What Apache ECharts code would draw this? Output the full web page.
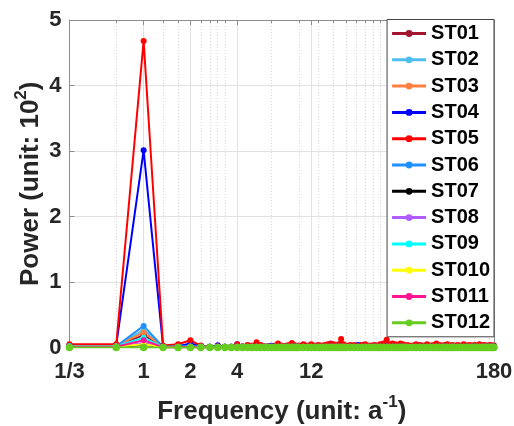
<!DOCTYPE html>
<html>
<head>
<meta charset="utf-8">
<title>Power spectrum</title>
<script src="https://cdn.jsdelivr.net/npm/echarts@6/dist/echarts.min.js"></script>
<style>
html, body { margin: 0; padding: 0; background: #fff; }
#chart { width: 514px; height: 426px; }
</style>
</head>
<body>
<div id="chart"></div>
<script>
// harmonic number k of each point, frequency = k / 3 (unit: a^-1)
var harmonic = [
    1, 2, 3, 4, 5, 6, 7, 8, 9, 10, 11, 12, 13, 14, 15, 16, 17, 18, 19, 20, 21, 22, 23, 24, 25, 26, 27, 28, 29, 30,
    32, 34, 36, 38, 40, 42, 44, 46, 48, 50, 52, 54, 56, 58, 60,
    64, 68, 72, 76, 80, 84, 88, 92, 96, 100,
    105, 110, 115, 120, 125, 130, 135, 140, 145, 150,
    160, 170, 180, 190, 200, 210, 220, 230, 240, 250, 260, 270, 280, 290, 300,
    315, 330, 345, 360, 375, 390, 405, 420, 435, 450, 465, 480, 495, 510, 525, 540
];

var xTickValues = [1 / 3, 1, 2, 4, 12, 180];
var xTickLabels = ['1/3', '1', '2', '4', '12', '180'];
// minor grid of the log axis
var xMinorValues = [2 / 3, 1, 4 / 3, 5 / 3, 2, 7 / 3, 8 / 3, 3, 10 / 3,
    20 / 3, 10, 40 / 3, 50 / 3, 20, 70 / 3, 80 / 3, 30, 100 / 3,
    200 / 3, 100, 400 / 3, 500 / 3];

var stationNames = ['ST01', 'ST02', 'ST03', 'ST04', 'ST05', 'ST06', 'ST07', 'ST08', 'ST09', 'ST010', 'ST011', 'ST012'];
var stationColors = ['#A2142F', '#4DBEEE', '#FF7F3F', '#0000FF', '#FF0000', '#1E90FF', '#000000', '#B05CFF', '#00FFFF', '#FFFF00', '#FF1493', '#66CC1F'];

// power (unit: 10^2)
var ST01 = [
    0.02, 0.02, 0.19, 0.01, 0.01, 0.01, 0.01, 0.01, 0.01, 0.01, 0.01, 0.01, 0.01, 0.01, 0.01, 0.01, 0.01, 0.01, 0.01, 0.01, 0.01, 0.01, 0.01, 0.01, 0.01, 0.01, 0.01, 0.01, 0.01, 0.01,
    0.01, 0.01, 0.01, 0.01, 0.01, 0.01, 0.01, 0.01, 0.01, 0.01, 0.01, 0.01, 0.01, 0.01, 0.01,
    0.01, 0.01, 0.01, 0.01, 0.01, 0.01, 0.01, 0.01, 0.01, 0.01,
    0.01, 0.01, 0.01, 0.01, 0.01, 0.01, 0.01, 0.01, 0.01, 0.01,
    0.01, 0.01, 0.01, 0.01, 0.01, 0.01, 0.01, 0.01, 0.01, 0.01, 0.01, 0.01, 0.01, 0.01, 0.01,
    0.01, 0.01, 0.01, 0.01, 0.01, 0.01, 0.01, 0.01, 0.01, 0.01, 0.01, 0.01, 0.01, 0.01, 0.01, 0.01
];
var ST02 = [
    0.02, 0.02, 0.27, 0.01, 0.01, 0.02, 0.01, 0.01, 0.01, 0.01, 0.01, 0.01, 0.01, 0.01, 0.01, 0.01, 0.01, 0.01, 0.01, 0.01, 0.01, 0.01, 0.01, 0.01, 0.01, 0.01, 0.01, 0.01, 0.01, 0.01,
    0.01, 0.01, 0.01, 0.01, 0.01, 0.01, 0.01, 0.01, 0.01, 0.01, 0.01, 0.01, 0.01, 0.01, 0.01,
    0.01, 0.01, 0.01, 0.01, 0.01, 0.01, 0.01, 0.01, 0.01, 0.01,
    0.01, 0.01, 0.01, 0.01, 0.01, 0.01, 0.01, 0.01, 0.01, 0.01,
    0.01, 0.01, 0.01, 0.01, 0.01, 0.01, 0.01, 0.01, 0.01, 0.01, 0.01, 0.01, 0.01, 0.01, 0.01,
    0.01, 0.01, 0.01, 0.01, 0.01, 0.01, 0.01, 0.01, 0.01, 0.01, 0.01, 0.01, 0.01, 0.01, 0.01, 0.01
];
var ST03 = [
    0.02, 0.02, 0.23, 0.01, 0.01, 0.01, 0.01, 0.01, 0.01, 0.01, 0.01, 0.01, 0.01, 0.01, 0.01, 0.01, 0.01, 0.01, 0.01, 0.01, 0.01, 0.01, 0.01, 0.01, 0.01, 0.01, 0.01, 0.01, 0.01, 0.01,
    0.01, 0.01, 0.01, 0.01, 0.01, 0.01, 0.01, 0.01, 0.01, 0.01, 0.01, 0.01, 0.01, 0.01, 0.01,
    0.01, 0.01, 0.01, 0.01, 0.01, 0.01, 0.01, 0.01, 0.01, 0.01,
    0.01, 0.01, 0.01, 0.01, 0.01, 0.01, 0.01, 0.01, 0.01, 0.01,
    0.01, 0.01, 0.01, 0.01, 0.01, 0.01, 0.01, 0.01, 0.01, 0.01, 0.01, 0.01, 0.01, 0.01, 0.01,
    0.01, 0.01, 0.01, 0.01, 0.01, 0.01, 0.01, 0.01, 0.01, 0.01, 0.01, 0.01, 0.01, 0.01, 0.01, 0.01
];
var ST04 = [
    0.04, 0.04, 3.01, 0.02, 0.02, 0.06, 0.02, 0.01, 0.035, 0.01, 0.01, 0.05, 0.01, 0.02, 0.02, 0.03, 0.02, 0.01, 0.02, 0.025, 0.02, 0.03, 0.01, 0.02, 0.02, 0.02, 0.03, 0.02, 0.02, 0.02,
    0.02, 0.02, 0.03, 0.02, 0.02, 0.02, 0.02, 0.03, 0.02, 0.02, 0.02, 0.02, 0.03, 0.02, 0.02,
    0.02, 0.02, 0.04, 0.04, 0.03, 0.02, 0.02, 0.02, 0.02, 0.03,
    0.02, 0.03, 0.02, 0.02, 0.02, 0.02, 0.02, 0.02, 0.02, 0.02,
    0.02, 0.02, 0.03, 0.02, 0.02, 0.02, 0.02, 0.03, 0.02, 0.02, 0.02, 0.02, 0.02, 0.02, 0.02,
    0.02, 0.02, 0.02, 0.02, 0.02, 0.02, 0.02, 0.02, 0.02, 0.02, 0.02, 0.02, 0.02, 0.02, 0.02, 0.02
];
var ST05 = [
    0.05, 0.05, 4.68, 0.03, 0.05, 0.11, 0.03, 0.01, 0.02, 0.01, 0.01, 0.05, 0.02, 0.04, 0.03, 0.08, 0.04, 0.02, 0.02, 0.01, 0.03, 0.06, 0.03, 0.02, 0.03, 0.04, 0.07, 0.04, 0.02, 0.03,
    0.05, 0.03, 0.05, 0.03, 0.04, 0.03, 0.04, 0.05, 0.06, 0.05, 0.03, 0.05, 0.13, 0.05, 0.03,
    0.04, 0.04, 0.02, 0.04, 0.05, 0.03, 0.03, 0.04, 0.03, 0.05,
    0.06, 0.12, 0.05, 0.06, 0.05, 0.04, 0.06, 0.05, 0.03, 0.04,
    0.03, 0.05, 0.04, 0.03, 0.05, 0.03, 0.04, 0.06, 0.04, 0.03, 0.04, 0.05, 0.03, 0.04, 0.03,
    0.04, 0.03, 0.05, 0.03, 0.04, 0.03, 0.04, 0.03, 0.05, 0.03, 0.04, 0.03, 0.03, 0.04, 0.03, 0.03
];
var ST06 = [
    0.02, 0.02, 0.33, 0.01, 0.01, 0.02, 0.01, 0.01, 0.01, 0.01, 0.01, 0.01, 0.01, 0.01, 0.01, 0.01, 0.01, 0.01, 0.01, 0.01, 0.01, 0.01, 0.01, 0.01, 0.01, 0.01, 0.01, 0.01, 0.01, 0.01,
    0.01, 0.01, 0.01, 0.01, 0.01, 0.01, 0.01, 0.01, 0.01, 0.01, 0.01, 0.01, 0.01, 0.01, 0.01,
    0.01, 0.01, 0.01, 0.01, 0.01, 0.01, 0.01, 0.01, 0.01, 0.01,
    0.01, 0.01, 0.01, 0.01, 0.01, 0.01, 0.01, 0.01, 0.01, 0.01,
    0.01, 0.01, 0.01, 0.01, 0.01, 0.01, 0.01, 0.01, 0.01, 0.01, 0.01, 0.01, 0.01, 0.01, 0.01,
    0.01, 0.01, 0.01, 0.01, 0.01, 0.01, 0.01, 0.01, 0.01, 0.01, 0.01, 0.01, 0.01, 0.01, 0.01, 0.01
];
var ST07 = [
    0.01, 0.01, 0.04, 0.005, 0.005, 0.005, 0.005, 0.005, 0.005, 0.005, 0.005, 0.005, 0.005, 0.005, 0.005, 0.005, 0.005, 0.005, 0.005, 0.005, 0.005, 0.005, 0.005, 0.005, 0.005, 0.005, 0.005, 0.005, 0.005, 0.005,
    0.005, 0.005, 0.005, 0.005, 0.005, 0.005, 0.005, 0.005, 0.005, 0.005, 0.005, 0.005, 0.005, 0.005, 0.005,
    0.005, 0.005, 0.005, 0.005, 0.005, 0.005, 0.005, 0.005, 0.005, 0.005,
    0.005, 0.005, 0.005, 0.005, 0.005, 0.005, 0.005, 0.005, 0.005, 0.005,
    0.005, 0.005, 0.005, 0.005, 0.005, 0.005, 0.005, 0.005, 0.005, 0.005, 0.005, 0.005, 0.005, 0.005, 0.005,
    0.005, 0.005, 0.005, 0.005, 0.005, 0.005, 0.005, 0.005, 0.005, 0.005, 0.005, 0.005, 0.005, 0.005, 0.005, 0.005
];
var ST08 = [
    0.01, 0.01, 0.07, 0.005, 0.005, 0.005, 0.005, 0.005, 0.005, 0.005, 0.005, 0.005, 0.005, 0.005, 0.005, 0.005, 0.005, 0.005, 0.005, 0.005, 0.005, 0.005, 0.005, 0.005, 0.005, 0.005, 0.005, 0.005, 0.005, 0.005,
    0.005, 0.005, 0.005, 0.005, 0.005, 0.005, 0.005, 0.005, 0.005, 0.005, 0.005, 0.005, 0.005, 0.005, 0.005,
    0.005, 0.005, 0.005, 0.005, 0.005, 0.005, 0.005, 0.005, 0.005, 0.005,
    0.005, 0.005, 0.005, 0.005, 0.005, 0.005, 0.005, 0.005, 0.005, 0.005,
    0.005, 0.005, 0.005, 0.005, 0.005, 0.005, 0.005, 0.005, 0.005, 0.005, 0.005, 0.005, 0.005, 0.005, 0.005,
    0.005, 0.005, 0.005, 0.005, 0.005, 0.005, 0.005, 0.005, 0.005, 0.005, 0.005, 0.005, 0.005, 0.005, 0.005, 0.005
];
var ST09 = [
    0.02, 0.02, 0.15, 0.01, 0.01, 0.01, 0.01, 0.01, 0.01, 0.01, 0.01, 0.01, 0.01, 0.01, 0.01, 0.01, 0.01, 0.01, 0.01, 0.01, 0.01, 0.01, 0.01, 0.01, 0.01, 0.01, 0.01, 0.01, 0.01, 0.01,
    0.01, 0.01, 0.01, 0.01, 0.01, 0.01, 0.01, 0.01, 0.01, 0.01, 0.01, 0.01, 0.01, 0.01, 0.01,
    0.01, 0.01, 0.01, 0.01, 0.01, 0.01, 0.01, 0.01, 0.01, 0.01,
    0.01, 0.01, 0.01, 0.01, 0.01, 0.01, 0.01, 0.01, 0.01, 0.01,
    0.01, 0.01, 0.01, 0.01, 0.01, 0.01, 0.01, 0.01, 0.01, 0.01, 0.01, 0.01, 0.01, 0.01, 0.01,
    0.01, 0.01, 0.01, 0.01, 0.01, 0.01, 0.01, 0.01, 0.01, 0.01, 0.01, 0.01, 0.01, 0.01, 0.01, 0.01
];
var ST010 = [
    0.01, 0.01, 0.05, 0.005, 0.005, 0.005, 0.005, 0.005, 0.005, 0.005, 0.005, 0.005, 0.005, 0.005, 0.005, 0.005, 0.005, 0.005, 0.005, 0.005, 0.005, 0.005, 0.005, 0.005, 0.005, 0.005, 0.005, 0.005, 0.005, 0.005,
    0.005, 0.005, 0.005, 0.005, 0.005, 0.005, 0.005, 0.005, 0.005, 0.005, 0.005, 0.005, 0.005, 0.005, 0.005,
    0.005, 0.005, 0.005, 0.005, 0.005, 0.005, 0.005, 0.005, 0.005, 0.005,
    0.005, 0.005, 0.005, 0.005, 0.005, 0.005, 0.005, 0.005, 0.005, 0.005,
    0.005, 0.005, 0.005, 0.005, 0.005, 0.005, 0.005, 0.005, 0.005, 0.005, 0.005, 0.005, 0.005, 0.005, 0.005,
    0.005, 0.005, 0.005, 0.005, 0.005, 0.005, 0.005, 0.005, 0.005, 0.005, 0.005, 0.005, 0.005, 0.005, 0.005, 0.005
];
var ST011 = [
    0.01, 0.01, 0.11, 0.005, 0.005, 0.01, 0.005, 0.005, 0.005, 0.005, 0.005, 0.005, 0.005, 0.005, 0.005, 0.005, 0.005, 0.005, 0.005, 0.005, 0.005, 0.005, 0.005, 0.005, 0.005, 0.005, 0.005, 0.005, 0.005, 0.005,
    0.005, 0.005, 0.005, 0.005, 0.005, 0.005, 0.005, 0.005, 0.005, 0.005, 0.005, 0.005, 0.005, 0.005, 0.005,
    0.005, 0.005, 0.005, 0.005, 0.005, 0.005, 0.005, 0.005, 0.005, 0.005,
    0.005, 0.005, 0.005, 0.005, 0.005, 0.005, 0.005, 0.005, 0.005, 0.005,
    0.005, 0.005, 0.005, 0.005, 0.005, 0.005, 0.005, 0.005, 0.005, 0.005, 0.005, 0.005, 0.005, 0.005, 0.005,
    0.005, 0.005, 0.005, 0.005, 0.005, 0.005, 0.005, 0.005, 0.005, 0.005, 0.005, 0.005, 0.005, 0.005, 0.005, 0.005
];
var ST012 = [
    0, 0, 0, 0, 0, 0, 0, 0, 0, 0, 0, 0, 0, 0, 0, 0, 0, 0, 0, 0, 0, 0, 0, 0, 0, 0, 0, 0, 0, 0,
    0, 0, 0, 0, 0, 0, 0, 0, 0, 0, 0, 0, 0, 0, 0,
    0, 0, 0, 0, 0, 0, 0, 0, 0, 0,
    0, 0, 0, 0, 0, 0, 0, 0, 0, 0,
    0, 0, 0, 0, 0, 0, 0, 0, 0, 0, 0, 0, 0, 0, 0,
    0, 0, 0, 0, 0, 0, 0, 0, 0, 0, 0, 0, 0, 0, 0, 0
];

var powerData = [ST01, ST02, ST03, ST04, ST05, ST06, ST07, ST08, ST09, ST010, ST011, ST012];

var fontFamily = '"Liberation Sans", Arial, Helvetica, sans-serif';
var axisColor = '#8c8c8c';
var textColor = '#262626';

var myChart = echarts.init(document.getElementById('chart'));

var seriesList = stationNames.map(function (name, i) {
    return {
        name: name,
        type: 'line',
        xAxisIndex: 0,
        yAxisIndex: 0,
        data: harmonic.map(function (k, j) {
            return [k / 3, powerData[i][j]];
        }),
        symbol: 'circle',
        symbolSize: i === 11 ? 7.5 : 6,
        showSymbol: true,
        lineStyle: {width: 2, color: stationColors[i]},
        itemStyle: {color: stationColors[i]},
        emphasis: {disabled: true},
        animation: false
    };
});

function xLabel(v) {
    for (var i = 0; i < xTickValues.length; i++) {
        if (Math.abs(xTickValues[i] - v) < 1e-6 * xTickValues[i]) {
            return xTickLabels[i];
        }
    }
    return '';
}

// axis titles with a raised exponent
var nameRich = {
    t: {fontSize: 26, fontWeight: 'bold', color: textColor, lineHeight: 36, fontFamily: fontFamily},
    s: {fontSize: 17, fontWeight: 'bold', color: textColor, lineHeight: 17, padding: [0, 0, 19, 0], fontFamily: fontFamily}
};

var option = {
    backgroundColor: '#ffffff',
    animation: false,
    textStyle: {fontFamily: fontFamily},
    grid: {left: 69.5, right: 20, top: 20, bottom: 78.5, containLabel: false, outerBoundsMode: 'none'},
    legend: {
        data: stationNames,
        orient: 'vertical',
        right: 20,
        top: 19.5,
        padding: [4, 4, 4, 3.5],
        itemGap: 6.3,
        itemWidth: 34,
        itemHeight: 8.5,
        selectedMode: false,
        backgroundColor: '#ffffff',
        borderColor: '#444444',
        borderWidth: 1,
        borderRadius: 0,
        lineStyle: {width: 3},
        textStyle: {fontSize: 20, fontWeight: 'bold', color: '#000000', lineHeight: 20, fontFamily: fontFamily}
    },
    xAxis: [
        {
            type: 'log',
            min: 1 / 3,
            max: 180,
            position: 'bottom',
            axisLine: {show: true, onZero: false, lineStyle: {color: axisColor, width: 1}},
            axisTick: {show: true, inside: true, length: 5, customValues: xTickValues, lineStyle: {color: axisColor}},
            axisLabel: {
                customValues: xTickValues,
                formatter: xLabel,
                margin: 13,
                fontSize: 22,
                fontWeight: 'bold',
                color: textColor,
                fontFamily: fontFamily
            },
            splitLine: {show: true, lineStyle: {color: '#e2e2e2', width: 1}},
            name: '{t|Frequency (unit: a}{s|-1}{t|)}',
            nameLocation: 'middle',
            nameGap: 46,
            nameMoveOverlap: false,
            nameTextStyle: {fontFamily: fontFamily, rich: nameRich}
        },
        {
            type: 'log',
            min: 1 / 3,
            max: 180,
            position: 'top',
            axisLine: {show: true, onZero: false, lineStyle: {color: axisColor, width: 1}},
            axisTick: {show: true, inside: true, length: 5, customValues: xTickValues, lineStyle: {color: axisColor}},
            axisLabel: {show: false},
            splitLine: {show: false}
        },
        {
            type: 'log',
            min: 1 / 3,
            max: 180,
            position: 'top',
            axisLine: {show: false, onZero: false},
            axisTick: {show: true, inside: true, length: 3, customValues: xMinorValues, lineStyle: {color: axisColor}},
            axisLabel: {show: false},
            splitLine: {show: true, lineStyle: {color: '#d8d8d8', width: 1, type: [1, 2]}}
        }
    ],
    yAxis: [
        {
            type: 'value',
            min: 0,
            max: 5,
            interval: 1,
            position: 'left',
            axisLine: {show: true, onZero: false, lineStyle: {color: axisColor, width: 1}},
            axisTick: {show: true, inside: true, length: 5, lineStyle: {color: axisColor}},
            axisLabel: {margin: 8, fontSize: 22, fontWeight: 'bold', color: textColor, fontFamily: fontFamily},
            splitLine: {show: true, lineStyle: {color: '#e2e2e2', width: 1}},
            name: '{t|Power (unit: 10}{s|2}{t|)}',
            nameLocation: 'middle',
            nameGap: 21,
            nameMoveOverlap: false,
            nameTextStyle: {fontFamily: fontFamily, rich: nameRich}
        },
        {
            type: 'value',
            min: 0,
            max: 5,
            interval: 1,
            position: 'right',
            axisLine: {show: true, onZero: false, lineStyle: {color: axisColor, width: 1}},
            axisTick: {show: true, inside: true, length: 5, lineStyle: {color: axisColor}},
            axisLabel: {show: false},
            splitLine: {show: false}
        }
    ],
    series: seriesList
};

myChart.setOption(option);
</script>
</body>
</html>
